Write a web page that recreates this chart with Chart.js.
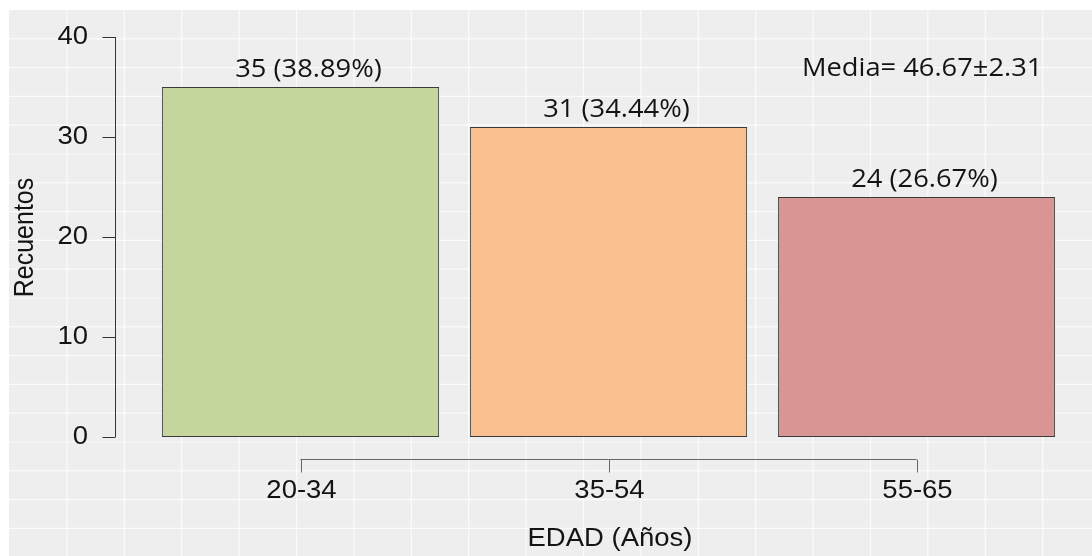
<!DOCTYPE html>
<html>
<head>
<meta charset="utf-8">
<script src="https://cdn.jsdelivr.net/npm/chart.js@4"></script>
<style>
  html, body { margin: 0; padding: 0; background: #ffffff; }
  #wrap { width: 1092px; height: 556px; position: relative; }
</style>
</head>
<body>
<div id="wrap"><canvas id="edadChart" width="1092" height="556"></canvas></div>
<script>
try {

    // Data
    const categories = ['20-34', '35-54', '55-65'];
    const counts = [35, 31, 24];
    const percents = ['38.89%', '34.44%', '26.67%'];
    const yTicks = [0, 10, 20, 30, 40];
    const barColors = ['#c4d69b', '#f9bf8f', '#d99594'];
    const meanLabel = 'Media= 46.67\u00b12.31';

    const axisFont = '25px "Liberation Sans", Arial, sans-serif';
    const labelFont = '24.8px "Open Sans", sans-serif';
    const textColor = '#141414';
    const stretch = 1.1; // picture is a bit wider than tall fonts

    // draw text stretched sideways like the source image
    function wideText(ctx, txt, x, y, sx) {
      ctx.save();
      ctx.translate(x, y);
      ctx.scale(sx, 1);
      ctx.fillText(txt, 0, 0);
      ctx.restore();
    }

    // grey textured panel behind the plot
    const backgroundPanel = {
      id: 'backgroundPanel',
      beforeDraw(chart) {
        const ctx = chart.ctx;
        ctx.save();
        ctx.fillStyle = '#ffffff';
        ctx.fillRect(0, 0, chart.width, chart.height);
        ctx.fillStyle = '#eeeeee';
        ctx.fillRect(9, 10, chart.width - 9, chart.height - 10);
        ctx.strokeStyle = 'rgba(255,255,255,0.75)';
        ctx.lineWidth = 1.2;
        for (let x = 9.5 + 57.4; x < chart.width; x += 57.4) {
          ctx.beginPath();
          ctx.moveTo(x, 10);
          ctx.lineTo(x, chart.height);
          ctx.stroke();
        }
        for (let y = 10 + 28.8; y < chart.height; y += 28.8) {
          ctx.beginPath();
          ctx.moveTo(9, y);
          ctx.lineTo(chart.width, y);
          ctx.stroke();
        }
        ctx.restore();
      }
    };

    // R style axes, labels above bars and the mean note
    const baseAxes = {
      id: 'baseAxes',
      afterDatasetsDraw(chart) {
        const ctx = chart.ctx;
        const xs = chart.scales.x;
        const ys = chart.scales.y;
        ctx.save();
        ctx.strokeStyle = '#333333';
        ctx.lineWidth = 1;
        ctx.fillStyle = textColor;

        // y axis
        const axX = 115.5;
        ctx.beginPath();
        ctx.moveTo(axX, ys.getPixelForValue(yTicks[0]));
        ctx.lineTo(axX, ys.getPixelForValue(yTicks[yTicks.length - 1]));
        ctx.stroke();
        ctx.font = axisFont;
        ctx.textAlign = 'right';
        ctx.textBaseline = 'middle';
        yTicks.forEach(v => {
          const py = Math.round(ys.getPixelForValue(v)) + 0.5;
          ctx.beginPath();
          ctx.moveTo(axX, py);
          ctx.lineTo(axX - 13, py);
          ctx.stroke();
          wideText(ctx, String(v), 88, py, stretch);
        });

        // x axis
        const axY = 459.5;
        ctx.strokeStyle = '#666666';
        ctx.beginPath();
        ctx.moveTo(xs.getPixelForValue(0), axY);
        ctx.lineTo(xs.getPixelForValue(categories.length - 1), axY);
        ctx.stroke();
        ctx.textAlign = 'center';
        categories.forEach((c, i) => {
          const px = Math.round(xs.getPixelForValue(i)) + 0.5;
          ctx.beginPath();
          ctx.moveTo(px, axY);
          ctx.lineTo(px, axY + 13);
          ctx.stroke();
          wideText(ctx, c, px, 491, stretch);
        });

        // axis titles
        wideText(ctx, 'EDAD (A\u00f1os)', 610, 539, stretch);
        ctx.save();
        ctx.textBaseline = 'alphabetic';
        ctx.translate(33, 237.5);
        ctx.scale(stretch, 1);
        ctx.rotate(-Math.PI / 2);
        ctx.fillText('Recuentos', 0, 0);
        ctx.restore();

        // value labels
        ctx.font = labelFont;
        ctx.textBaseline = 'alphabetic';
        const meta = chart.getDatasetMeta(0);
        meta.data.forEach((bar, i) => {
          wideText(ctx, counts[i] + ' (' + percents[i] + ')', bar.x + 8, bar.y - 10, stretch);
        });

        ctx.textAlign = 'left';
        wideText(ctx, meanLabel, 802, 76, stretch);
        ctx.restore();
      }
    };

    const chartCanvas = document.getElementById('edadChart');
    new Chart(chartCanvas.getContext('2d'), {
      type: 'bar',
      data: {
        labels: categories,
        datasets: [{
          data: counts,
          backgroundColor: barColors,
          borderColor: '#3a3a3a',
          borderWidth: 1,
          borderSkipped: false,
          barPercentage: 0.9,
          categoryPercentage: 1.0
        }]
      },
      options: {
        responsive: false,
        animation: false,
        events: [],
        layout: {
          padding: { left: 146.5, right: 21.5, top: 37, bottom: 119 }
        },
        plugins: {
          legend: { display: false },
          tooltip: { enabled: false },
          title: { display: false }
        },
        scales: {
          x: { display: false },
          y: { display: false, min: 0, max: 40 }
        }
      },
      plugins: [backgroundPanel, baseAxes]
    });

} catch (e) {
    console.log(e);
}
</script>
</body>
</html>
